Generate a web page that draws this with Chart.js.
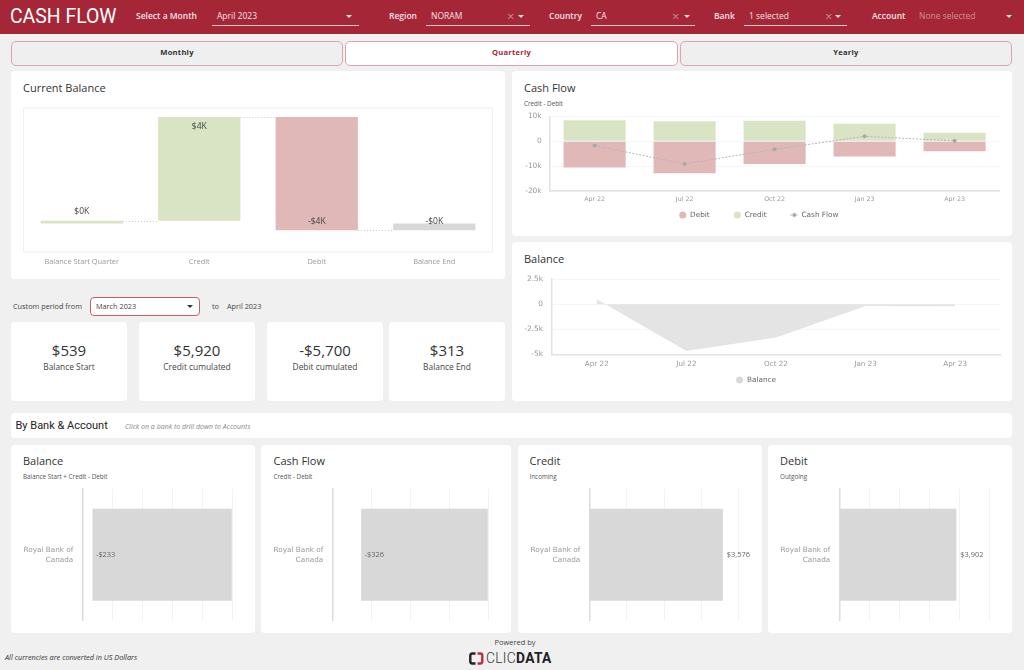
<!DOCTYPE html>
<html><head><meta charset="utf-8">
<script src="https://cdn.jsdelivr.net/npm/chart.js@4"></script>
<style>
html,body{margin:0;padding:0}
body{width:1024px;height:670px;background:#f0f0f0;overflow:hidden;position:relative;font-family:"Open Sans",sans-serif;color:#333}
.a{position:absolute;white-space:nowrap;line-height:1}
.card{position:absolute;background:#fff;border-radius:4px}
canvas{position:absolute;display:block}
#hdr{position:absolute;left:0;top:0;width:1024px;height:34px;background:#a52636}
.lbl{color:#f3e3e5;font-weight:600;font-size:8.5px;transform:translateY(-50%);top:16px}
.val{color:#f3e3e5;font-size:8.5px;transform:translateY(-50%);top:16px}
.ul{position:absolute;top:25px;height:1px;background:#e6c5c9}
.ar{position:absolute;width:0;height:0;border-left:3px solid transparent;border-right:3px solid transparent;border-top:3px solid #f3e3e5}
.x{color:#c98c94;font-size:13px;top:15.5px;transform:translateY(-50%)}
.tab{position:absolute;top:41px;height:22.5px;border:1px solid #d9a6ab;border-radius:5px;background:#efefef;text-align:center;line-height:21.5px;font-size:7.6px;font-weight:700;color:#333;letter-spacing:.25px}
.t{font-size:11px;color:#333;transform:translateY(-50%)}
.s{font-size:6.3px;color:#555;transform:translateY(-50%)}
.kv{font-size:15px;color:#333;text-align:center;transform:translateY(-50%)}
.kl{font-size:8.4px;color:#444;text-align:center;transform:translateY(-50%)}
</style></head><body>
<div id="hdr"></div>
<div class="a" style="left:10px;top:15.5px;transform:translateY(-50%);font:400 19.4px Roboto;color:#fff">CASH FLOW</div>
<div class="a lbl" style="left:136px">Select a Month</div><div class="a val" style="left:217px">April 2023</div><div class="ul" style="left:212px;width:147px"></div><div class="ar" style="left:346px;top:15px"></div>
<div class="a lbl" style="left:389px">Region</div><div class="a val" style="left:431px">NORAM</div><div class="ul" style="left:426px;width:104px"></div><div class="a x" style="left:507px">×</div><div class="ar" style="left:518px;top:15px"></div>
<div class="a lbl" style="left:549px">Country</div><div class="a val" style="left:596px">CA</div><div class="ul" style="left:591px;width:104px"></div><div class="a x" style="left:672px">×</div><div class="ar" style="left:684px;top:15px"></div>
<div class="a lbl" style="left:714px">Bank</div><div class="a val" style="left:749px">1 selected</div><div class="ul" style="left:744px;width:103px"></div><div class="a x" style="left:825px">×</div><div class="ar" style="left:835px;top:15px"></div>
<div class="a lbl" style="left:872px">Account</div><div class="a val" style="left:919px;color:#cf929a">None selected</div><div class="ar" style="left:1006px;top:15px"></div>

<div class="tab" style="left:11px;width:330px">Monthly</div>
<div class="tab" style="left:345px;width:331px;background:#fff;color:#a52636">Quarterly</div>
<div class="tab" style="left:680px;width:330px">Yearly</div>

<div class="card" style="left:11px;top:71px;width:494px;height:208px"></div>
<div class="a t" style="left:23px;top:87px">Current Balance</div>
<canvas id="cBalance" width="494" height="208" style="left:11px;top:71px"></canvas>

<div class="card" style="left:512px;top:71px;width:500px;height:165px"></div>
<div class="a t" style="left:524px;top:87px">Cash Flow</div>
<div class="a s" style="left:524px;top:103.5px">Credit - Debit</div>
<canvas id="cFlow" width="500" height="165" style="left:512px;top:71px"></canvas>

<div class="card" style="left:512px;top:242px;width:500px;height:159px"></div>
<div class="a t" style="left:524px;top:258px">Balance</div>
<canvas id="cArea" width="500" height="159" style="left:512px;top:242px"></canvas>

<div class="a" style="left:13px;top:306.5px;transform:translateY(-50%);font-size:7.3px;color:#444">Custom period from</div>
<div style="position:absolute;left:90px;top:297px;width:108px;height:17px;background:#fff;border:1px solid #c8606a;border-radius:4px"></div>
<div class="a" style="left:96px;top:306.5px;transform:translateY(-50%);font-size:7.3px;color:#444">March 2023</div>
<div class="ar" style="left:187px;top:305px;border-top-color:#333"></div>
<div class="a" style="left:212px;top:306.5px;transform:translateY(-50%);font-size:7.3px;color:#444">to</div>
<div class="a" style="left:227px;top:306.5px;transform:translateY(-50%);font-size:7.3px;color:#444">April 2023</div>

<div class="card" style="left:11px;top:322px;width:116px;height:79px"></div>
<div class="card" style="left:139px;top:322px;width:116px;height:79px"></div>
<div class="card" style="left:267px;top:322px;width:116px;height:79px"></div>
<div class="card" style="left:389px;top:322px;width:116px;height:79px"></div>
<div class="a kv" style="left:11px;width:116px;top:350px">$539</div><div class="a kl" style="left:11px;width:116px;top:366.5px">Balance Start</div>
<div class="a kv" style="left:139px;width:116px;top:350px">$5,920</div><div class="a kl" style="left:139px;width:116px;top:366.5px">Credit cumulated</div>
<div class="a kv" style="left:267px;width:116px;top:350px">-$5,700</div><div class="a kl" style="left:267px;width:116px;top:366.5px">Debit cumulated</div>
<div class="a kv" style="left:389px;width:116px;top:350px">$313</div><div class="a kl" style="left:389px;width:116px;top:366.5px">Balance End</div>

<div class="card" style="left:11px;top:413px;width:1001px;height:25px"></div>
<div class="a" style="left:15.5px;top:425px;transform:translateY(-50%);font:400 11px Roboto;color:#222">By Bank &amp; Account</div>
<div class="a" style="left:125px;top:425.5px;transform:translateY(-50%);font-size:7px;font-style:italic;color:#888">Click on a bank to drill down to Accounts</div>

<div class="card" style="left:11px;top:445px;width:244px;height:188px"></div>
<div class="card" style="left:261px;top:445px;width:250px;height:188px"></div>
<div class="card" style="left:518px;top:445px;width:243.5px;height:188px"></div>
<div class="card" style="left:768px;top:445px;width:244px;height:188px"></div>
<div class="a t" style="left:23px;top:460px">Balance</div><div class="a s" style="left:23px;top:476.5px">Balance Start + Credit - Debit</div>
<div class="a t" style="left:273.5px;top:460px">Cash Flow</div><div class="a s" style="left:273.5px;top:476.5px">Credit - Debit</div>
<div class="a t" style="left:529.5px;top:460px">Credit</div><div class="a s" style="left:529.5px;top:476.5px">Incoming</div>
<div class="a t" style="left:780px;top:460px">Debit</div><div class="a s" style="left:780px;top:476.5px">Outgoing</div>
<canvas id="bBal" width="244" height="188" style="left:11px;top:445px"></canvas>
<canvas id="bFlow" width="250" height="188" style="left:261px;top:445px"></canvas>
<canvas id="bCred" width="243" height="188" style="left:518px;top:445px"></canvas>
<canvas id="bDeb" width="244" height="188" style="left:768px;top:445px"></canvas>

<div class="a" style="left:5px;top:658px;transform:translateY(-50%);font-size:7.3px;font-style:italic;color:#333">All currencies are converted in US Dollars</div>
<div class="a" style="left:415px;width:200px;text-align:center;top:643px;transform:translateY(-50%);font-size:7.5px;color:#444">Powered by</div>
<svg style="position:absolute;left:469px;top:651.5px" width="20" height="13" viewBox="0 0 20 13">
<path d="M6.5 1.5H3.2Q1.3 1.5 1.3 3.4V9.6Q1.3 11.5 3.2 11.5H6.5" fill="none" stroke="#222" stroke-width="2.4"/>
<path d="M8.5 1.5H11.4Q13.3 1.5 13.3 3.4V9.6Q13.3 11.5 11.4 11.5H8.5" fill="none" stroke="#b5313f" stroke-width="2.4"/>
</svg>
<div class="a" style="left:486px;top:658px;transform:translateY(-50%);font:300 13.8px Roboto;color:#333;letter-spacing:.3px">CLIC<span style="font-weight:700;color:#222">DATA</span></div>

<script>
/* ---------- data ---------- */
const waterfallCategories = ['Balance Start Quarter','Credit','Debit','Balance End'];
const waterfallRanges = [[0,93],[93,3669],[3669,-233],[-233,0]];
const waterfallLabels = ['$0K','$4K','-$4K','-$0K'];

const quarters = ['Apr 22','Jul 22','Oct 22','Jan 23','Apr 23'];
const debitValues = [-10500,-12900,-9100,-6100,-4000];
const creditValues = [8500,8100,8300,7100,3500];
const cashFlowValues = [-1700,-9100,-3200,2000,200];
const balanceValues = [480,-4660,-3300,-170,-200];

const bankLabels = [['Royal Bank of','Canada']];
const bankBalance = [-233];
const bankCashFlow = [-326];
const bankCredit = [3576];
const bankDebit = [3902];

/* ---------- shared ---------- */
const GREEN='#d9e4c4', RED='#e0b8b8', GREY='#d8d8d8', AREA='#e4e4e4';
const DV='"DejaVu Sans"', OS='"Open Sans"';
Chart.defaults.animation=false;
Chart.defaults.responsive=false;
Chart.defaults.maintainAspectRatio=false;
Chart.defaults.devicePixelRatio=1;
Chart.defaults.plugins.tooltip.enabled=false;

const money=v=>(v<0?'-$':'$')+Math.abs(v).toLocaleString('en-US');
const kLabel=v=>v===0?'0':(v/1000)+'k';
const setH=h=>s=>{s.height=h};
const setW=w=>s=>{s.width=w};
const setWNoPad=w=>s=>{s.width=w;s.paddingTop=0;s.paddingBottom=0};

/* legend: keep its box small in the layout, then move it up under the plot */
const legendSize={id:'legendSize',
  afterInit(c,a,o){const f=c.legend.fit;c.legend.fit=function(){f.call(this);this.height=o.height}},
  afterLayout(c,a,o){const L=c.legend;L.top=o.top;L.left+=o.dx||0;L.right+=o.dx||0;if(L.adjustHitBoxes)L.adjustHitBoxes()}
};

/* waterfall decorations: box round the plot, dotted connectors, value labels */
const waterfallDeco={id:'waterfallDeco',afterDatasetsDraw(c){
  const {ctx,chartArea:A,scales:{y}}=c, m=c.getDatasetMeta(0).data;
  ctx.save();
  ctx.strokeStyle='#f0f0f0';ctx.lineWidth=1;
  ctx.strokeRect(A.left+.5,A.top+.5,A.right-A.left-1,A.bottom-A.top-1);
  ctx.strokeStyle='#c8c8c8';ctx.setLineDash([1,2]);
  waterfallRanges.slice(0,-1).forEach((r,i)=>{
    const py=Math.round(y.getPixelForValue(r[1]))+.5;
    ctx.beginPath();ctx.moveTo(m[i].x+m[i].width/2,py);ctx.lineTo(m[i+1].x-m[i+1].width/2,py);ctx.stroke();
  });
  ctx.setLineDash([]);
  ctx.fillStyle='#444';ctx.font='8.5px '+OS;ctx.textAlign='center';ctx.textBaseline='middle';
  const rule=[(t,b)=>t-9,(t,b)=>t+9,(t,b)=>b-9,(t,b)=>b-9];
  waterfallRanges.forEach((r,i)=>{
    const top=y.getPixelForValue(Math.max(...r)),bot=y.getPixelForValue(Math.min(...r));
    ctx.fillText(waterfallLabels[i],m[i].x,rule[i](top,bot));
  });
  ctx.restore();
}};

/* end-of-bar value label for the horizontal bank bars */
const barValue={id:'barValue',afterDatasetsDraw(c){
  const {ctx}=c, ds=c.data.datasets[0];
  ctx.save();ctx.fillStyle='#666';ctx.font='7.4px '+OS;ctx.textAlign='left';ctx.textBaseline='middle';
  c.getDatasetMeta(0).data.forEach((el,i)=>{
    const v=ds.data[i];
    ctx.fillText(money(v),el.x+(v<0?3.5:4),el.y);
  });
  ctx.restore();
}};

/* ---------- Current Balance ---------- */
new Chart(document.getElementById('cBalance'),{
  type:'bar',
  data:{labels:waterfallCategories,datasets:[{label:'Current Balance',data:waterfallRanges,
    backgroundColor:[GREEN,GREEN,RED,GREY],barPercentage:.7,categoryPercentage:1}]},
  options:{
    layout:{padding:{left:12,right:12,top:36.5,bottom:0}},
    plugins:{legend:{display:false}},
    scales:{
      x:{grid:{display:false,drawTicks:false},border:{display:false},afterFit:setH(26.5),
         ticks:{padding:5,color:'#999',font:{family:OS,size:7.4},maxRotation:0,autoSkip:false}},
      y:{display:false,min:-1000,max:4000}
    }
  },
  plugins:[waterfallDeco]
});

/* ---------- Cash Flow (top right) ---------- */
const flowMark=document.createElement('canvas');flowMark.width=9;flowMark.height=7;
(()=>{const g=flowMark.getContext('2d');g.strokeStyle='#bbb';g.setLineDash([2,1]);g.beginPath();g.moveTo(0,3.5);g.lineTo(9,3.5);g.stroke();
g.fillStyle='#a3a3a3';g.beginPath();g.arc(4.5,3.5,2,0,7);g.fill();})();

new Chart(document.getElementById('cFlow'),{
  type:'bar',
  data:{labels:quarters,datasets:[
    {label:'Debit',data:debitValues,backgroundColor:RED,barPercentage:.69,categoryPercentage:1,order:1},
    {label:'Credit',data:creditValues,backgroundColor:GREEN,barPercentage:.69,categoryPercentage:1,order:1},
    {type:'line',label:'Cash Flow',data:cashFlowValues,borderColor:'#b5b5b5',borderWidth:1,borderDash:[2,1.5],order:0,
     pointBackgroundColor:'#a8a8a8',pointBorderWidth:0,pointRadius:2,tension:0,fill:false}
  ]},
  options:{
    layout:{padding:{left:0,right:12.4,top:45.5,bottom:0}},
    plugins:{
      legendSize:{height:30,top:116.35,dx:3},
      legend:{position:'bottom',labels:{usePointStyle:true,boxWidth:8,boxHeight:5,padding:24,color:'#666',font:{family:DV,size:7.3},
        generateLabels(c){return c.data.datasets.map((d,i)=>({text:d.label,datasetIndex:i,fontColor:'#666',
          fillStyle:d.backgroundColor,strokeStyle:d.backgroundColor,lineWidth:0,
          pointStyle:d.type==='line'?flowMark:'circle'}))}}}
    },
    scales:{
      x:{stacked:true,afterFit:setH(15),grid:{display:false,drawTicks:false},border:{color:'#e2e2e2',width:1.5},
         ticks:{padding:5,color:'#999',font:{family:DV,size:6.3},maxRotation:0,autoSkip:false}},
      y:{stacked:true,min:-20000,max:10000,afterFit:setW(37.6),grid:{color:'#f6f6f6',drawTicks:false},border:{color:'#e2e2e2',width:1.5},
         ticks:{stepSize:10000,padding:8,color:'#999',font:{family:DV,size:7.4},callback:kLabel}}
    }
  },
  plugins:[legendSize]
});

/* ---------- Balance area ---------- */
new Chart(document.getElementById('cArea'),{
  type:'line',
  data:{labels:quarters,datasets:[{label:'Balance',data:balanceValues,fill:'origin',backgroundColor:AREA,
    borderWidth:0,borderColor:AREA,pointRadius:0,tension:0}]},
  options:{
    layout:{padding:{left:0,right:12,top:37,bottom:0}},
    plugins:{
      legendSize:{height:30,top:112.5},
      legend:{position:'bottom',labels:{usePointStyle:true,boxWidth:8,boxHeight:5,padding:21.85,color:'#666',font:{family:DV,size:7.3},
        generateLabels(c){return c.data.datasets.map((d,i)=>({text:d.label,datasetIndex:i,fontColor:'#666',
          fillStyle:GREY,strokeStyle:GREY,lineWidth:0,pointStyle:'circle'}))}}}
    },
    scales:{
      x:{offset:true,afterFit:setH(16.5),grid:{display:false,drawTicks:false},border:{color:'#e2e2e2',width:1.5},
         ticks:{padding:5,color:'#999',font:{family:DV,size:7.2},maxRotation:0,autoSkip:false}},
      y:{min:-5000,max:2500,afterFit:setW(40),grid:{color:'#f6f6f6',drawTicks:false},border:{color:'#e2e2e2',width:1.5},
         ticks:{stepSize:2500,padding:9,color:'#999',font:{family:DV,size:7.4},callback:kLabel}}
    }
  },
  plugins:[legendSize]
});

/* ---------- Bank bars ---------- */
function bankChart(id,values,min,max,step,yWidth,rightPad){
  new Chart(document.getElementById(id),{
    type:'bar',
    data:{labels:bankLabels,datasets:[{label:id,data:values,backgroundColor:GREY,barPercentage:.7,categoryPercentage:1}]},
    options:{
      indexAxis:'y',
      layout:{padding:{left:0,right:rightPad,top:44,bottom:12.4}},
      plugins:{legend:{display:false}},
      scales:{
        x:{min,max,afterFit:setH(0),grid:{color:'#f3f3f3',drawTicks:false},border:{display:false},ticks:{display:false,stepSize:step}},
        y:{afterFit:setWNoPad(yWidth),grid:{display:false,drawTicks:false},border:{color:'#dcdcdc',width:1.5},
           ticks:{padding:9,color:'#999',font:{family:DV,size:7.25,lineHeight:1.35},autoSkip:false}}
      }
    },
    plugins:[barValue]
  });
}
bankChart('bBal',bankBalance,-250,0,50,71.3,22.7);
bankChart('bFlow',bankCashFlow,-400,0,100,71.3,22.7);
bankChart('bCred',bankCredit,0,4000,1000,71.3,22.3);
bankChart('bDeb',bankDebit,0,5000,1000,71.3,22.7);
</script>
</body></html>
